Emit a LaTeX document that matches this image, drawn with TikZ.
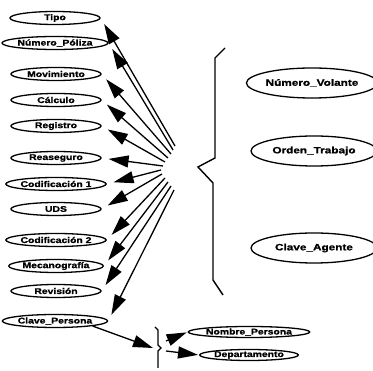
\documentclass[tikz,border=0pt]{standalone}
\usepackage{fontspec}
\setmainfont{Liberation Sans}
\newfontfamily\heavy{Liberation Sans}[BoldFeatures={FakeBold=1.0}]
\usetikzlibrary{shapes.geometric,arrows.meta}
% widened bold lettering used inside the ellipses
\newcommand\widetext[2][1.25]{\scalebox{#1}[1]{#2}}
\begin{document}
\begin{tikzpicture}[x=1pt,y=-1pt,
  attr/.style={draw,ellipse,line width=1.3pt,inner sep=0pt,
    minimum width=90pt,minimum height=13pt,
    font=\heavy\bfseries\fontsize{8.3}{9}\selectfont},
  bigattr/.style={attr,minimum width=126pt,minimum height=30pt,
    font=\heavy\bfseries\fontsize{9.2}{10}\selectfont},
  subattr/.style={attr,minimum width=92pt,minimum height=11pt},
  fan/.style={line width=1.3pt,-{Triangle[length=20pt,width=12pt]},shorten >=7pt},
  brace/.style={line width=1.4pt,line join=miter}]
\useasboundingbox (0,0) rectangle (373,371);

% left column of attributes
\node[attr] (tipo) at (55,18)  {\widetext{Tipo}};
\node[attr] (npol) at (55,43)  {\widetext{Número\_Póliza}};
\node[attr] (mov)  at (56,74)  {\widetext{Movimiento}};
\node[attr] (calc) at (56,100) {\widetext{Cálculo}};
\node[attr] (reg)  at (56,126) {\widetext{Registro}};
\node[attr] (reas) at (56,158) {\widetext{Reaseguro}};
\node[attr] (cod1) at (56,184) {\widetext{Codificación 1}};
\node[attr] (uds)  at (56,209) {\widetext{UDS}};
\node[attr] (cod2) at (56,240) {\widetext{Codificación 2}};
\node[attr] (mec)  at (56,266) {\widetext{Mecanografía}};
\node[attr] (rev)  at (56,291) {\widetext{Revisión}};
\node[attr] (cp)   at (55,321) {\widetext{Clave\_Persona}};

% right column
\node[bigattr] (nv) at (312,83)  {\widetext[1.28]{Número\_Volante}};
\node[bigattr] (ot) at (314,151) {\widetext[1.28]{Orden\_Trabajo}};
\node[bigattr] (ca) at (314,248) {\widetext[1.28]{Clave\_Agente}};

% lower pair
\node[subattr] (nper) at (249,332) {\widetext{Nombre\_Persona}};
\node[subattr] (dep)  at (249,355) {\widetext{Departamento}};

% large brace
\draw[brace] (225,48) -- (215,58) -- (215,158) -- (198,167) -- (213,183)
  -- (213,280) -- (223,295);

% small brace
\draw[brace] (155,327) -- (158,330) -- (158,345) -- (161,348) -- (158,351) -- (158,368);
\coordinate (sbin) at (153,348);
\coordinate (sbo1) at (166,341);
\coordinate (sbo2) at (166,351);

% fan origins
\coordinate (t1)  at (175,146);
\coordinate (t2)  at (173,150);
\coordinate (t3)  at (171,154);
\coordinate (t4)  at (168,158);
\coordinate (t5)  at (165,162);
\coordinate (t6)  at (163,166);
\coordinate (t7)  at (161,170);
\coordinate (t8)  at (162,174);
\coordinate (t9)  at (165,178);
\coordinate (t10) at (168,182);
\coordinate (t11) at (171,186);
\coordinate (t12) at (174,190);

\draw[fan] (t1) -- (tipo.east);
\draw[fan] (t2) -- (npol.east);
\draw[fan] (t3) -- (mov.east);
\draw[fan] (t4) -- (calc.east);
\draw[fan] (t5) -- (reg.east);
\draw[fan] (t6) -- (reas.east);
\draw[fan] (t7) -- (cod1.east);
\draw[fan] (t8) -- (uds.east);
\draw[fan] (t9) -- (cod2.east);
\draw[fan] (t10) -- (mec.east);
\draw[fan] (t11) -- (rev.east);
\draw[fan] (t12) -- (cp.east);

\draw[fan,shorten >=0pt] (cp.south east) -- (sbin);
\draw[fan,shorten >=1pt] (sbo1) -- (nper.west);
\draw[fan,shorten >=1pt] (sbo2) -- (dep.west);
\end{tikzpicture}
\end{document}
